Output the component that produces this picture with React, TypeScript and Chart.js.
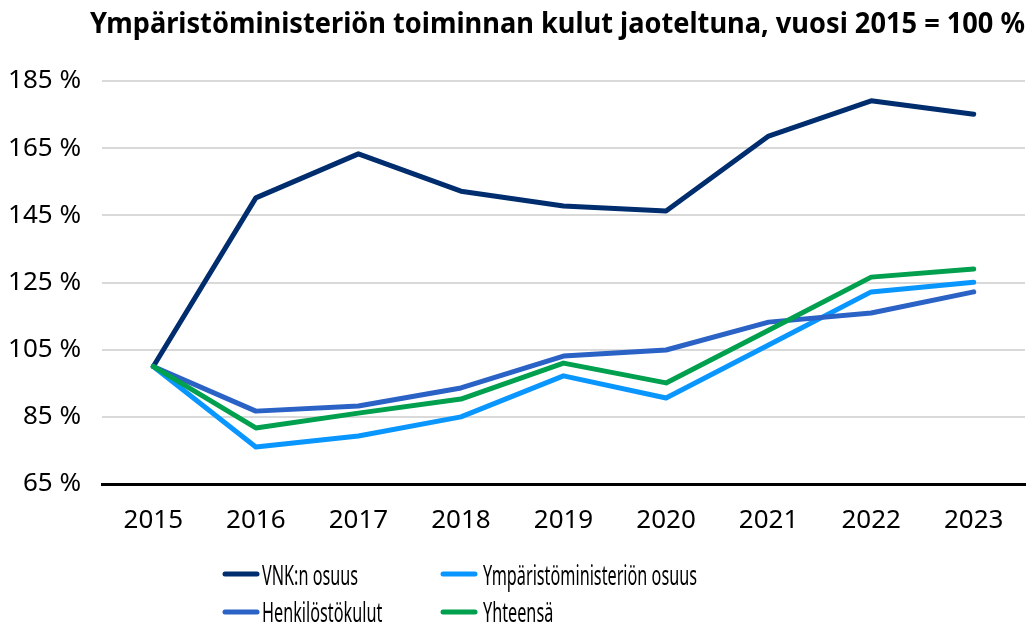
import React, { useEffect, useRef } from "react";
import { Chart, registerables } from "chart.js";

Chart.register(...registerables);

const titleText = "Ympäristöministeriön toiminnan kulut jaoteltuna, vuosi 2015 = 100 %";
const years = ["2015", "2016", "2017", "2018", "2019", "2020", "2021", "2022", "2023"];
const vnkOsuus = [100, 150.2, 163.3, 152.2, 147.8, 146.3, 168.6, 179.1, 175.1];
const ymOsuus = [100, 76, 79.3, 85, 97.2, 90.6, 106.4, 122.2, 125.1];
const henkilostokulut = [100, 86.7, 88.2, 93.6, 103.1, 104.9, 113.2, 115.9, 122.2];
const yhteensa = [100, 81.7, 86.1, 90.3, 101, 95.1, 110.8, 126.6, 129];
const seriesNames = ["VNK:n osuus", "Ympäristöministeriön osuus", "Henkilöstökulut", "Yhteensä"];
const seriesColors = ["#002d6e", "#0a96ff", "#2a62c5", "#00a04f"];
const yMin = 65;
const yMax = 185;
const yStep = 20;

const FONT = "'Noto Sans', sans-serif";

const overlayPlugin = {
  id: "overlay",
  afterDraw(chart: any) {
    const ctx = chart.ctx;
    ctx.save();
    // title (condensed to the reference's narrow typeface)
    ctx.fillStyle = "#000";
    ctx.font = `bold 29px ${FONT}`;
    ctx.textAlign = "left";
    ctx.textBaseline = "alphabetic";
    const tw = ctx.measureText(titleText).width;
    const tsx = 935 / tw;
    ctx.save();
    ctx.translate(90, 33);
    ctx.scale(tsx, 1);
    ctx.fillText(titleText, 0, 0);
    ctx.restore();
    // legend
    ctx.font = `28px ${FONT}`;
    const lsx = 214 / ctx.measureText(seriesNames[1]).width;
    const cols = [223, 441];
    const textX = [262, 483];
    const rows = [574, 612];
    const baselines = [585, 622];
    chart.data.datasets.forEach((ds: any, i: number) => {
      const c = i % 2;
      const r = Math.floor(i / 2);
      const y = rows[r];
      ctx.strokeStyle = ds.borderColor;
      ctx.lineWidth = 5;
      ctx.lineCap = "round";
      ctx.beginPath();
      ctx.moveTo(cols[c] + 2, y);
      ctx.lineTo(cols[c] + 34, y);
      ctx.stroke();
      ctx.fillStyle = "#000";
      ctx.save();
      ctx.translate(textX[c], baselines[r]);
      ctx.scale(lsx, 1);
      ctx.fillText(ds.label, 0, 0);
      ctx.restore();
    });
    ctx.restore();
  },
};

export default function App() {
  const ref = useRef<HTMLCanvasElement | null>(null);
  useEffect(() => {
    document.body.style.margin = "0";
    const seriesData = [vnkOsuus, ymOsuus, henkilostokulut, yhteensa];
    const chart = new Chart(ref.current as HTMLCanvasElement, {
      type: "line",
      data: {
        labels: years,
        datasets: seriesData.map((d, i) => ({
          label: seriesNames[i],
          data: d,
          borderColor: seriesColors[i],
          backgroundColor: seriesColors[i],
          borderWidth: 5,
          pointRadius: 0,
          tension: 0,
          fill: false,
          borderCapStyle: "round" as const,
          borderJoinStyle: "round" as const,
          order: 4 - i,
        })),
      },
      options: {
        animation: false,
        responsive: false,
        layout: { padding: { top: 81, right: 6, bottom: 91, left: 0 } },
        plugins: {
          legend: { display: false },
          title: { display: false },
          tooltip: { enabled: false },
        },
        scales: {
          x: {
            offset: true,
            grid: { display: false },
            border: { display: true, color: "#000", width: 3 },
            ticks: { color: "#000", font: { family: FONT, size: 26 }, padding: 13 },
            afterFit: (s: any) => {
              s.height = 50;
            },
          },
          y: {
            min: yMin,
            max: yMax,
            border: { display: false },
            grid: { color: "#d9d9d9", lineWidth: 2, drawTicks: false },
            ticks: {
              stepSize: yStep,
              color: "#000",
              font: { family: FONT, size: 26 },
              padding: 21,
              callback: (v: any) => `${v} %`,
            },
            afterFit: (s: any) => {
              s.width = 102;
            },
          },
        },
      },
      plugins: [overlayPlugin],
    });
    return () => chart.destroy();
  }, []);
  return (
    <div style={{ width: 1031, height: 625 }}>
      <canvas ref={ref} width={1031} height={625} />
    </div>
  );
}
